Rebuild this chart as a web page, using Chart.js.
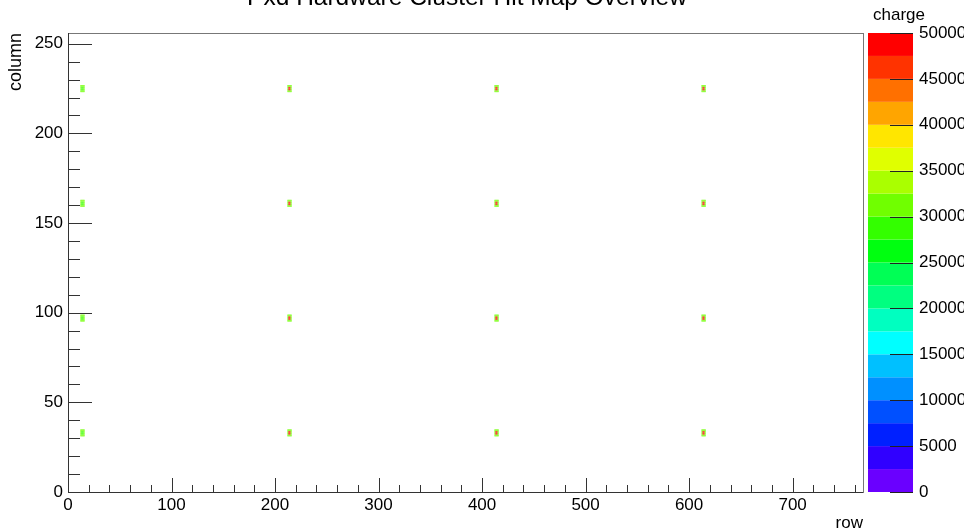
<!DOCTYPE html>
<html>
<head>
<meta charset="utf-8">
<script src="https://cdn.jsdelivr.net/npm/chart.js@4.4.1/dist/chart.umd.min.js"></script>
<style>
    html, body { margin: 0; padding: 0; background: #fff; }
    #wrap { width: 964px; height: 531px; }
</style>
</head>
<body>
<div id="wrap"><canvas id="hitmap" width="964" height="531"></canvas></div>
<script>
// Hit map data
// clusters are 4x4 pixels around these row / column positions
const clusterRows = [14, 214, 414, 614];
const clusterColumns = [33, 97, 161, 225];
const clusterOffsets = [-2, -1, 0, 1];
const seedOffsets = [-1, 0];
// seed pixel charge per row of clusters (first row has no red seed)
const seedCharges = [29000, 49000, 49000, 49000];
const neighbourCharge = 31000;

const rowTicks = [0, 100, 200, 300, 400, 500, 600, 700];
const columnTicks = [0, 50, 100, 150, 200, 250];
const chargeTicks = [0, 5000, 10000, 15000, 20000, 25000, 30000, 35000, 40000, 45000, 50000];
const chargeLevels = [0, 2500, 5000, 7500, 10000, 12500, 15000, 17500, 20000, 22500, 25000,
    27500, 30000, 32500, 35000, 37500, 40000, 42500, 45000, 47500, 50000];
const paletteColors = [
    '#6a00ff', '#3000ff', '#0020ff', '#0050ff', '#0090ff', '#00c0ff', '#00ffff',
    '#00ffc0', '#00ff80', '#00ff55', '#00ff10', '#33ff00', '#70ff00', '#aaff00',
    '#e0ff00', '#ffe600', '#ffa500', '#ff7000', '#ff3300', '#ff0000'
];

const fontFamily = '"Liberation Sans", Arial, Helvetica, sans-serif';

// Build the pixel list from cluster positions
const cells = [];
clusterRows.forEach((r, i) => {
    clusterColumns.forEach((c) => {
        clusterOffsets.forEach((dx) => {
            clusterOffsets.forEach((dy) => {
                const seed = seedOffsets.includes(dx) && seedOffsets.includes(dy);
                cells.push({ x: r + dx, y: c + dy, v: seed ? seedCharges[i] : neighbourCharge });
            });
        });
    });
});

function colorFor(v) {
    for (let i = 0; i < paletteColors.length; i++) {
        if (v < chargeLevels[i + 1]) return paletteColors[i];
    }
    return paletteColors[paletteColors.length - 1];
}

// Draws cells, colour bar, ROOT style ticks and texts
const rootStyle = {
    id: 'rootStyle',
    afterDatasetsDraw(chart) {
        const ctx = chart.ctx;
        const xs = chart.scales.x, ys = chart.scales.y, zs = chart.scales.z;
        const area = chart.chartArea;

        // cells
        ctx.save();
        cells.forEach((p) => {
            const x0 = xs.getPixelForValue(p.x), x1 = xs.getPixelForValue(p.x + 1);
            const y0 = ys.getPixelForValue(p.y + 1), y1 = ys.getPixelForValue(p.y);
            ctx.fillStyle = colorFor(p.v);
            ctx.fillRect(x0, y0, x1 - x0, y1 - y0);
        });
        ctx.restore();

        // frame
        ctx.save();
        ctx.strokeStyle = '#777';
        ctx.lineWidth = 1;
        ctx.strokeRect(area.left + 0.5, area.top + 0.5, area.right - area.left, area.bottom - area.top);
        ctx.strokeStyle = '#333';
        ctx.beginPath();
        ctx.moveTo(area.left + 0.5, area.top);
        ctx.lineTo(area.left + 0.5, area.bottom + 0.5);
        ctx.lineTo(area.right, area.bottom + 0.5);
        ctx.stroke();

        // x ticks
        ctx.beginPath();
        for (let v = 0; v <= 768; v += 20) {
            const px = Math.round(xs.getPixelForValue(v)) + 0.5;
            const len = v % 100 === 0 ? 14 : 7;
            ctx.moveTo(px, area.bottom);
            ctx.lineTo(px, area.bottom - len);
        }
        // y ticks
        for (let v = 0; v <= 256; v += 10) {
            const py = Math.round(ys.getPixelForValue(v)) + 0.5;
            const len = v % 50 === 0 ? 24 : 12;
            ctx.moveTo(area.left, py);
            ctx.lineTo(area.left + len, py);
        }
        ctx.stroke();
        ctx.restore();

        // colour bar
        const barLeft = area.right + 5, barRight = area.right + 50;
        ctx.save();
        paletteColors.forEach((col, i) => {
            const yTop = zs.getPixelForValue(chargeLevels[i + 1]);
            const yBot = zs.getPixelForValue(chargeLevels[i]);
            ctx.fillStyle = col;
            ctx.fillRect(barLeft, yTop, barRight - barLeft, yBot - yTop);
        });
        ctx.strokeStyle = '#222';
        ctx.beginPath();
        chargeTicks.forEach((v) => {
            const py = Math.round(zs.getPixelForValue(v)) + 0.5;
            ctx.moveTo(barRight, py);
            ctx.lineTo(barRight - 23, py);
        });
        ctx.stroke();
        ctx.restore();

        // texts
        ctx.save();
        ctx.fillStyle = '#000';
        ctx.font = '24.5px ' + fontFamily;
        ctx.textAlign = 'center';
        ctx.textBaseline = 'alphabetic';
        ctx.fillText('Pxd Hardware Cluster Hit Map Overview', 467, 5);

        ctx.font = '17px ' + fontFamily;
        ctx.textAlign = 'left';
        ctx.fillText('charge', 873, 20);

        ctx.textAlign = 'right';
        ctx.fillText('row', area.right, 528);

        ctx.font = '18px ' + fontFamily;
        ctx.translate(21, area.top);
        ctx.rotate(-Math.PI / 2);
        ctx.textAlign = 'right';
        ctx.textBaseline = 'alphabetic';
        ctx.fillText('column', 0, 0);
        ctx.restore();
    }
};

const tickFont = { family: fontFamily, size: 17 };
const plainLabel = (v) => String(v);

new Chart(document.getElementById('hitmap'), {
    type: 'scatter',
    data: {
        datasets: [{
            label: 'hits',
            data: cells,
            pointRadius: 0,
            pointHoverRadius: 0
        }]
    },
    options: {
        responsive: false,
        animation: false,
        events: [],
        layout: { padding: { top: 33, left: 0, right: 0, bottom: 0 } },
        plugins: {
            legend: { display: false },
            tooltip: { enabled: false },
            title: { display: false }
        },
        scales: {
            x: {
                type: 'linear',
                min: 0,
                max: 768,
                grid: { display: false, drawTicks: false },
                border: { display: false },
                afterBuildTicks: (s) => { s.ticks = rowTicks.map((v) => ({ value: v })); },
                afterFit: (s) => { s.height = 39; s.paddingLeft = 0; s.paddingRight = 0; },
                ticks: { color: '#000', font: tickFont, padding: 3, maxRotation: 0, autoSkip: false, callback: plainLabel }
            },
            y: {
                type: 'linear',
                min: 0,
                max: 256,
                grid: { display: false, drawTicks: false },
                border: { display: false },
                afterBuildTicks: (s) => { s.ticks = columnTicks.map((v) => ({ value: v })); },
                afterFit: (s) => { s.width = 68; s.paddingTop = 0; s.paddingBottom = 0; },
                ticks: { color: '#000', font: tickFont, padding: 5, autoSkip: false, callback: plainLabel }
            },
            z: {
                type: 'linear',
                position: 'right',
                min: 0,
                max: 50000,
                grid: { display: false, drawTicks: false },
                border: { display: false },
                afterBuildTicks: (s) => { s.ticks = chargeTicks.map((v) => ({ value: v })); },
                afterFit: (s) => { s.width = 101; s.paddingTop = 0; s.paddingBottom = 0; },
                ticks: { color: '#000', font: tickFont, padding: 56, autoSkip: false, callback: plainLabel }
            }
        }
    },
    plugins: [rootStyle]
});
</script>
</body>
</html>
